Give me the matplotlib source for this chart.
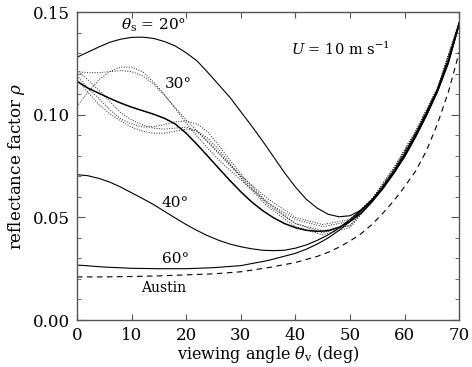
import numpy as np
import matplotlib
matplotlib.use("Agg")
import matplotlib.pyplot as plt
from matplotlib.ticker import MultipleLocator

plt.rcParams['font.family'] = ['DejaVu Serif']
plt.rcParams['mathtext.fontset'] = 'dejavuserif'

# theta_s = 20 deg
x20 = [0, 2, 4, 6, 8, 10, 12, 14, 16, 18, 20, 22, 24, 26, 28, 30, 32, 34, 36, 38, 40, 42, 44, 46, 48,
       50, 52, 54, 56, 58, 60, 62, 64, 66, 68, 70]
y20 = [0.128, 0.1305, 0.133, 0.1353, 0.1368, 0.1377, 0.1378, 0.1372, 0.1357, 0.1335, 0.1302, 0.1262,
       0.1205, 0.1145, 0.1085, 0.1015, 0.0945, 0.0872, 0.0795, 0.0718, 0.0648, 0.0588, 0.0545, 0.0515,
       0.0503, 0.0508, 0.0535, 0.0585, 0.065, 0.0725, 0.081, 0.0905, 0.101, 0.1125, 0.1265, 0.145]

# theta_s = 30 deg
x30 = [0, 2, 4, 6, 8, 10, 12, 14, 16, 18, 20, 22, 24, 26, 28, 30, 32, 34, 36, 38, 40, 42, 44, 46, 48,
       50, 52, 54, 56, 58, 60, 62, 64, 66, 68, 70]
y30 = [0.1163, 0.113, 0.1105, 0.108, 0.1057, 0.1037, 0.102, 0.1003, 0.0983, 0.0955, 0.091, 0.0855,
       0.0797, 0.0738, 0.068, 0.0625, 0.0575, 0.0533, 0.0498, 0.047, 0.045, 0.0437, 0.0432, 0.0435,
       0.0452, 0.048, 0.052, 0.0575, 0.064, 0.0715, 0.0802, 0.09, 0.1005, 0.112, 0.126, 0.1445]

# theta_s = 40 deg
x40 = [0, 2, 4, 6, 8, 10, 12, 14, 16, 18, 20, 22, 24, 26, 28, 30, 32, 34, 36, 38, 40, 42, 44, 46, 48,
       50, 52, 54, 56, 58, 60, 62, 64, 66, 68, 70]
y40 = [0.0708, 0.0703, 0.069, 0.0672, 0.0648, 0.062, 0.0592, 0.0563, 0.053, 0.0497, 0.0465, 0.0436,
       0.041, 0.0388, 0.037, 0.0357, 0.0347, 0.034, 0.0338, 0.034, 0.035, 0.0366, 0.0388, 0.0415,
       0.0448, 0.049, 0.0535, 0.0585, 0.0645, 0.0715, 0.0797, 0.0893, 0.0998, 0.1113, 0.1255, 0.1445]

# theta_s = 60 deg
x60 = [0, 5, 10, 15, 20, 25, 30, 35, 40, 42, 44, 46, 48, 50, 52, 54, 56, 58, 60, 62, 64, 66, 68, 70]
y60 = [0.0268, 0.0258, 0.0252, 0.025, 0.025, 0.0255, 0.0265, 0.029, 0.0325, 0.0345, 0.037, 0.040,
       0.0437, 0.048, 0.053, 0.0583, 0.0645, 0.0715, 0.0795, 0.089, 0.0995, 0.111, 0.125, 0.144]

# Austin
xau = [0, 5, 10, 15, 20, 25, 30, 35, 40, 42, 44, 46, 48, 50, 52, 54, 56, 58, 60, 62, 64, 66, 68, 70]
yau = [0.021, 0.021, 0.0212, 0.0215, 0.022, 0.0225, 0.0235, 0.0255, 0.028, 0.0295, 0.031, 0.033,
       0.0355, 0.0385, 0.042, 0.0465, 0.052, 0.058, 0.065, 0.0725, 0.0825, 0.0955, 0.111, 0.1305]

# dotted 30 deg variants
xd = [0, 2, 4, 6, 8, 10, 12, 14, 16, 18, 20, 22, 24, 26, 28, 31, 35, 40, 45, 50, 54, 58, 62, 66, 70]
yd1 = [0.104, 0.111, 0.117, 0.121, 0.1232, 0.1232, 0.121, 0.116, 0.110, 0.103, 0.096, 0.0895, 0.0835,
       0.078, 0.073, 0.066, 0.057, 0.049, 0.0455, 0.048, 0.059, 0.074, 0.092, 0.113, 0.145]
yd2 = [0.121, 0.1205, 0.1205, 0.121, 0.1215, 0.121, 0.119, 0.115, 0.1095, 0.1035, 0.0975, 0.092, 0.0865,
       0.081, 0.0755, 0.068, 0.059, 0.050, 0.0465, 0.049, 0.059, 0.074, 0.092, 0.113, 0.145]
yd3 = [0.119, 0.113, 0.108, 0.1025, 0.098, 0.0955, 0.094, 0.0942, 0.0952, 0.0965, 0.097, 0.0955, 0.0915,
       0.085, 0.078, 0.068, 0.057, 0.047, 0.0425, 0.046, 0.058, 0.073, 0.091, 0.112, 0.145]
yd4 = [0.117, 0.111, 0.105, 0.1005, 0.097, 0.094, 0.092, 0.091, 0.091, 0.092, 0.093, 0.092, 0.0885,
       0.083, 0.0765, 0.066, 0.055, 0.0455, 0.0415, 0.045, 0.0575, 0.073, 0.091, 0.112, 0.145]
yd5 = [0.122, 0.117, 0.112, 0.1065, 0.101, 0.0975, 0.095, 0.0935, 0.093, 0.0935, 0.094, 0.092, 0.087,
       0.0815, 0.0755, 0.067, 0.056, 0.047, 0.0435, 0.046, 0.058, 0.073, 0.091, 0.112, 0.145]

fig = plt.figure(figsize=(4.72, 3.67), dpi=100)
ax = fig.add_axes([0.163, 0.128, 0.81, 0.839])

for yy in [yd1, yd2, yd3, yd4, yd5]:
    ax.plot(xd, yy, color='#222222', lw=0.7, ls=(0, (1, 1.6)))
ax.plot(x20, y20, color='black', lw=0.8)
ax.plot(x30, y30, color='black', lw=1.1)
ax.plot(x40, y40, color='black', lw=0.8)
ax.plot(x60, y60, color='black', lw=0.8)
ax.plot(xau, yau, color='black', lw=0.8, ls=(0, (5, 4)))

ax.text(14, 0.1435, r'$\theta_{\rm s}$ = 20°', fontsize=11, ha='center', va='center')
ax.text(18.5, 0.115, '30°', fontsize=11, ha='center', va='center')
ax.text(18, 0.057, '40°', fontsize=11, ha='center', va='center')
ax.text(18, 0.0298, '60°', fontsize=11, ha='center', va='center')
ax.text(15.8, 0.0157, 'Austin', fontsize=10, ha='center', va='center')
ax.text(48.3, 0.132, r'$U$ = 10 m s$^{-1}$', fontsize=10.5, ha='center', va='center')

ax.set_xlim(0, 70)
ax.set_ylim(0, 0.15)
ax.yaxis.set_minor_locator(MultipleLocator(0.01))
ax.set_xticks([0, 10, 20, 30, 40, 50, 60, 70])
ax.set_yticks([0, 0.05, 0.10, 0.15])
ax.set_yticklabels(['0.00', '0.05', '0.10', '0.15'])
ax.tick_params(which='both', direction='in', top=True, right=True, labelsize=12, color='#555555')
ax.tick_params(axis='x', which='major', length=4, pad=5)
ax.tick_params(axis='y', which='major', length=6, pad=5)
ax.tick_params(axis='y', which='minor', length=3)
for s in ax.spines.values():
    s.set_color('#555555')
    s.set_linewidth(1.0)

ax.set_xlabel(r'viewing angle $\theta_{\rm v}$ (deg)', fontsize=11.5, labelpad=0)
ax.set_ylabel(r'reflectance factor $\rho$', fontsize=12, labelpad=4)

fig.savefig('out.png', dpi=100)
